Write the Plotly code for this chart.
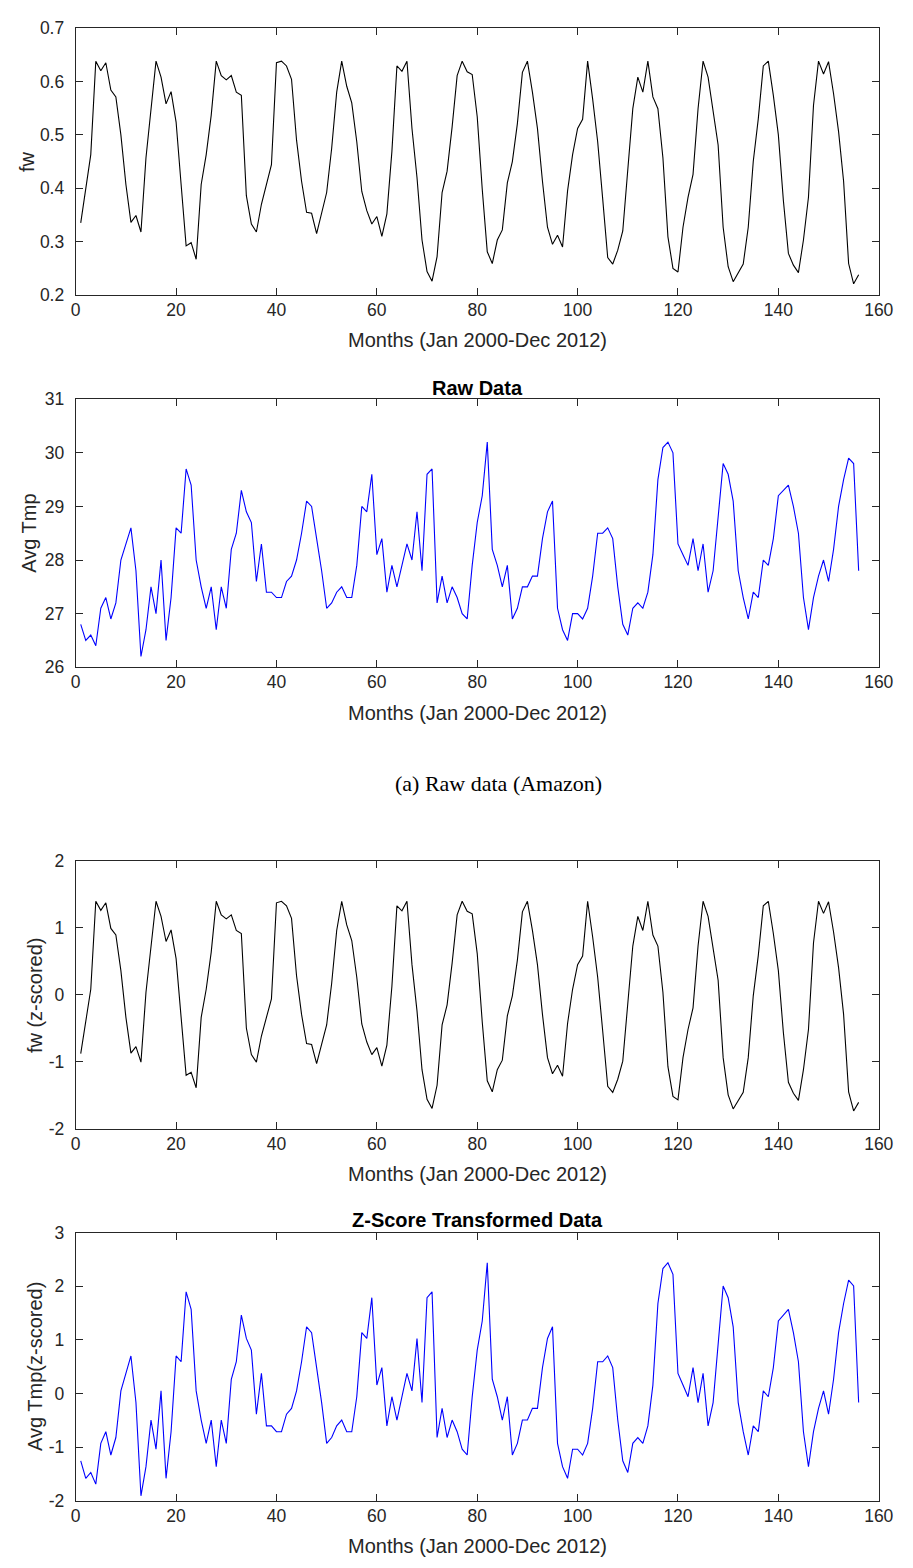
import numpy as np
import plotly.graph_objects as go

# Monthly series, Jan 2000 - Dec 2012 (156 months)
months = list(range(1, 157))

fw = [0.335, 0.398, 0.463, 0.638, 0.620, 0.635, 0.584, 0.571, 0.500, 0.407,
      0.336, 0.349, 0.318, 0.457, 0.543, 0.638, 0.608, 0.558, 0.581, 0.524,
      0.407, 0.292, 0.298, 0.267, 0.407, 0.463, 0.537, 0.638, 0.611, 0.603,
      0.611, 0.580, 0.574, 0.386, 0.333, 0.318, 0.370, 0.410, 0.444, 0.635,
      0.638, 0.629, 0.604, 0.490, 0.413, 0.355, 0.353, 0.315, 0.352, 0.392,
      0.475, 0.580, 0.638, 0.591, 0.560, 0.487, 0.394, 0.358, 0.333, 0.347,
      0.310, 0.352, 0.469, 0.629, 0.619, 0.638, 0.512, 0.420, 0.303, 0.244,
      0.226, 0.272, 0.392, 0.432, 0.515, 0.611, 0.638, 0.618, 0.613, 0.534,
      0.398, 0.281, 0.259, 0.303, 0.322, 0.410, 0.450, 0.521, 0.617, 0.638,
      0.580, 0.512, 0.413, 0.327, 0.295, 0.312, 0.290, 0.395, 0.463, 0.512,
      0.529, 0.638, 0.567, 0.487, 0.380, 0.270, 0.258, 0.284, 0.320, 0.432,
      0.549, 0.608, 0.580, 0.638, 0.571, 0.549, 0.457, 0.309, 0.250, 0.243,
      0.327, 0.383, 0.426, 0.549, 0.638, 0.608, 0.543, 0.481, 0.327, 0.253,
      0.225, 0.241, 0.258, 0.327, 0.450, 0.530, 0.629, 0.638, 0.574, 0.500,
      0.377, 0.278, 0.256, 0.242, 0.303, 0.383, 0.555, 0.638, 0.614, 0.637,
      0.577, 0.506, 0.413, 0.259, 0.221, 0.238]

avg_tmp = [26.8, 26.5, 26.6, 26.4, 27.1, 27.3, 26.9, 27.2, 28.0, 28.3,
           28.6, 27.8, 26.2, 26.7, 27.5, 27.0, 28.0, 26.5, 27.3, 28.6,
           28.5, 29.7, 29.4, 28.0, 27.5, 27.1, 27.5, 26.7, 27.5, 27.1,
           28.2, 28.5, 29.3, 28.9, 28.7, 27.6, 28.3, 27.4, 27.4, 27.3,
           27.3, 27.6, 27.7, 28.0, 28.5, 29.1, 29.0, 28.4, 27.8, 27.1,
           27.2, 27.4, 27.5, 27.3, 27.3, 27.9, 29.0, 28.9, 29.6, 28.1,
           28.4, 27.4, 27.9, 27.5, 27.9, 28.3, 28.0, 28.9, 27.8, 29.6,
           29.7, 27.2, 27.7, 27.2, 27.5, 27.3, 27.0, 26.9, 27.9, 28.7,
           29.2, 30.2, 28.2, 27.9, 27.5, 27.9, 26.9, 27.1, 27.5, 27.5,
           27.7, 27.7, 28.4, 28.9, 29.1, 27.1, 26.7, 26.5, 27.0, 27.0,
           26.9, 27.1, 27.7, 28.5, 28.5, 28.6, 28.4, 27.5, 26.8, 26.6,
           27.1, 27.2, 27.1, 27.4, 28.1, 29.5, 30.1, 30.2, 30.0, 28.3,
           28.1, 27.9, 28.4, 27.8, 28.3, 27.4, 27.8, 28.8, 29.8, 29.6,
           29.1, 27.8, 27.3, 26.9, 27.4, 27.3, 28.0, 27.9, 28.4, 29.2,
           29.3, 29.4, 29.0, 28.5, 27.3, 26.7, 27.3, 27.7, 28.0, 27.6,
           28.2, 29.0, 29.5, 29.9, 29.8, 27.8]


def zscore(values):
    a = np.asarray(values, dtype=float)
    return ((a - a.mean()) / a.std(ddof=1)).tolist()


fw_z = zscore(fw)
avg_tmp_z = zscore(avg_tmp)

# Tick positions and labels
x_ticks = [0, 20, 40, 60, 80, 100, 120, 140, 160]
x_labels = ["0", "20", "40", "60", "80", "100", "120", "140", "160"]
fw_ticks = [0.2, 0.3, 0.4, 0.5, 0.6, 0.7]
fw_labels = ["0.2", "0.3", "0.4", "0.5", "0.6", "0.7"]
tmp_ticks = [26, 27, 28, 29, 30, 31]
tmp_labels = ["26", "27", "28", "29", "30", "31"]
fwz_ticks = [-2, -1, 0, 1, 2]
fwz_labels = ["-2", "-1", "0", "1", "2"]
tmpz_ticks = [-2, -1, 0, 1, 2, 3]
tmpz_labels = ["-2", "-1", "0", "1", "2", "3"]

W, H = 913, 1568
AX_COLOR = "#262626"
FONT = "Liberation Sans"
TICK_SIZE = 17.5
LABEL_SIZE = 20
TITLE_SIZE = 20

# panel boxes in pixels: (top, bottom)
x_left, x_right = 72.3, 893.3
panels = [(18.3, 288.7), (394.3, 665.7), (861.7, 1133.3), (1238.3, 1510.0)]


def dom_y(top, bottom):
    return [1 - bottom / H, 1 - top / H]


fig = go.Figure()

series = [
    (fw, "black", fw_ticks, fw_labels, [0.2, 0.7], "fw", 22),
    (avg_tmp, "#0000FF", tmp_ticks, tmp_labels, [26, 31], "Avg Tmp", 25),
    (fw_z, "black", fwz_ticks, fwz_labels, [-2, 2], "fw (z-scored)", 30),
    (avg_tmp_z, "#0000FF", tmpz_ticks, tmpz_labels, [-2, 3], "Avg Tmp(z-scored)", 30),
]

layout = dict(
    width=W, height=H,
    margin=dict(l=0, r=0, t=0, b=0),
    paper_bgcolor="white", plot_bgcolor="white",
    showlegend=False,
    font=dict(family=FONT, color=AX_COLOR, size=TICK_SIZE),
)

annotations = []
for i, (vals, color, yt, yl, yr, ylabel, ylab_x) in enumerate(series):
    n = "" if i == 0 else str(i + 1)
    fig.add_trace(go.Scatter(
        x=months, y=vals, mode="lines",
        line=dict(color=color, width=1.1),
        xaxis="x" + n, yaxis="y" + n,
    ))
    top, bottom = panels[i]
    common = dict(
        showline=True, linecolor=AX_COLOR, linewidth=1, mirror="ticks",
        ticks="inside", ticklen=7, tickwidth=1, tickcolor=AX_COLOR,
        showgrid=False, zeroline=False,
        tickfont=dict(family=FONT, size=TICK_SIZE, color=AX_COLOR),
    )
    layout["xaxis" + n] = dict(
        domain=[x_left / W, x_right / W], range=[0, 160],
        tickvals=x_ticks, ticktext=x_labels,
        anchor="y" + n, ticklabelstandoff=-1, **common,
    )
    layout["yaxis" + n] = dict(
        domain=dom_y(top, bottom), range=yr,
        tickvals=yt, ticktext=yl,
        anchor="x" + n, ticklabelstandoff=7, **common,
    )
    # x-axis label
    annotations.append(dict(
        text="Months (Jan 2000-Dec 2012)", xref="paper", yref="paper",
        x=(x_left + x_right) / 2 / W, y=1 - (bottom + 46) / H,
        xanchor="center", yanchor="middle", showarrow=False,
        font=dict(family=FONT, size=LABEL_SIZE, color=AX_COLOR),
    ))
    # y-axis label
    annotations.append(dict(
        text=ylabel, xref="paper", yref="paper",
        x=ylab_x / W, y=1 - (top + bottom) / 2 / H,
        xanchor="center", yanchor="middle", textangle=-90, showarrow=False,
        font=dict(family=FONT, size=LABEL_SIZE, color=AX_COLOR),
    ))

# panel titles
for text, yc in [("<b>Raw Data</b>", 382.5), ("<b>Z-Score Transformed Data</b>", 1226)]:
    annotations.append(dict(
        text=text, xref="paper", yref="paper",
        x=(x_left + x_right) / 2 / W, y=1 - yc / H,
        xanchor="center", yanchor="middle", showarrow=False,
        font=dict(family=FONT, size=TITLE_SIZE, color="black"),
    ))

# sub-figure caption
annotations.append(dict(
    text="(a) Raw data (Amazon)", xref="paper", yref="paper",
    x=505 / W, y=1 - 783 / H, xanchor="center", yanchor="middle",
    showarrow=False,
    font=dict(family="Liberation Serif", size=22, color="black"),
))

layout["annotations"] = annotations
fig.update_layout(**layout)
fig.write_html("out.html")
